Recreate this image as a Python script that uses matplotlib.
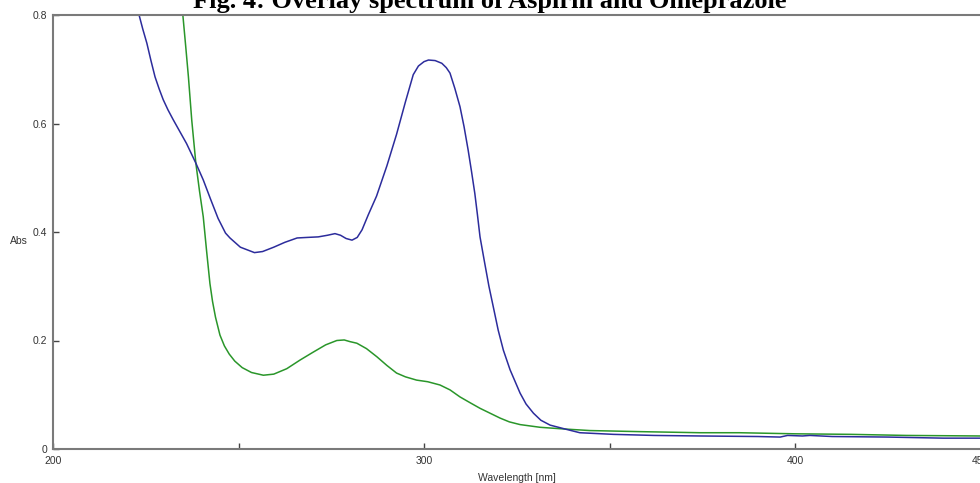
import matplotlib.pyplot as plt
import numpy as np

plt.rcParams.update({
    "font.family": "sans-serif",
    "font.sans-serif": ["Liberation Sans"],
    "font.size": 7.5,
})

# Omeprazole (blue) - wavelength [nm], absorbance
blue_wl = [222.6, 223.2, 224.2, 225.3, 226.4, 227.5, 228.6, 229.7, 231.0, 232.4,
           234.2, 236.0, 238.5, 240.5, 242.5, 244.5, 246.5, 247.7, 250.5, 254.3,
           256.5, 259.5, 262.5, 265.8, 268.5, 271.5, 274.0, 276.0, 277.5, 279.0,
           280.6, 282.0, 283.3, 285.0, 287.2, 288.1, 290.0, 292.6, 295.0, 297.1,
           298.5, 300.0, 301.2, 303.0, 304.8, 306.0, 307.0, 308.3, 309.7, 310.8,
           311.9, 312.8, 313.7, 314.4, 315.1, 316.3, 317.5, 318.8, 320.0, 321.4,
           323.2, 325.9, 327.5, 329.5, 331.5, 334.0, 338.5, 342.0, 351.0, 362.0,
           374.4, 390.0, 396.0, 398.0, 402.0, 404.0, 410.0, 425.0, 440.0, 450.0]
blue_abs = [0.810, 0.800, 0.774, 0.748, 0.716, 0.686, 0.664, 0.644, 0.625, 0.607,
            0.585, 0.563, 0.527, 0.496, 0.460, 0.425, 0.398, 0.389, 0.372, 0.362,
            0.364, 0.372, 0.381, 0.389, 0.390, 0.391, 0.394, 0.397, 0.394, 0.388,
            0.385, 0.390, 0.404, 0.432, 0.466, 0.484, 0.522, 0.580, 0.640, 0.690,
            0.706, 0.714, 0.717, 0.716, 0.711, 0.703, 0.693, 0.665, 0.631, 0.594,
            0.551, 0.512, 0.471, 0.432, 0.391, 0.345, 0.300, 0.258, 0.219, 0.182,
            0.146, 0.103, 0.083, 0.066, 0.053, 0.044, 0.036, 0.030, 0.027, 0.025,
            0.024, 0.023, 0.022, 0.025, 0.024, 0.025, 0.023, 0.022, 0.020, 0.020]

# Aspirin (green)
green_wl = [234.9, 235.0, 235.8, 236.5, 237.4, 238.5, 239.5, 240.5, 241.4, 242.3,
            243.0, 243.8, 245.0, 246.2, 247.5, 249.0, 251.0, 253.5, 256.7, 259.5,
            263.0, 266.6, 270.0, 273.5, 276.5, 278.5, 280.0, 281.9, 284.5, 287.3,
            290.0, 292.6, 295.0, 298.0, 301.0, 304.3, 307.0, 309.7, 312.5, 315.1,
            317.8, 320.5, 323.0, 325.9, 331.3, 337.5, 344.7, 358.2, 374.4, 385.0,
            400.0, 415.0, 430.0, 450.0]
green_abs = [0.820, 0.800, 0.740, 0.686, 0.606, 0.527, 0.475, 0.428, 0.365, 0.305,
             0.272, 0.243, 0.210, 0.190, 0.175, 0.162, 0.150, 0.141, 0.136, 0.138,
             0.148, 0.164, 0.178, 0.192, 0.200, 0.201, 0.198, 0.195, 0.185, 0.170,
             0.154, 0.140, 0.133, 0.127, 0.124, 0.118, 0.109, 0.096, 0.085, 0.075,
             0.066, 0.057, 0.050, 0.045, 0.040, 0.037, 0.034, 0.032, 0.030, 0.030,
             0.028, 0.027, 0.025, 0.024]

x_ticks = [200, 300, 400, 450]
x_minor = [250, 350]
y_ticks = [0, 0.2, 0.4, 0.6, 0.8]
y_labels = ["0", "0.2", "0.4", "0.6", "0.8"]

fig = plt.figure(figsize=(9.8, 4.83), dpi=100)
ax = fig.add_axes([53 / 980, 1 - 449 / 483, 927.5 / 980, 434 / 483])

ax.plot(green_wl, green_abs, color="#2a962a", linewidth=1.1)
ax.plot(blue_wl, blue_abs, color="#2c2c9c", linewidth=1.1)

ax.set_xlim(200, 450)
ax.set_ylim(0, 0.8)
ax.set_xticks(x_ticks)
ax.set_xticks(x_minor, minor=True)
ax.set_yticks(y_ticks)
ax.set_yticklabels(y_labels)
ax.tick_params(direction="in", length=4, width=1, pad=5, colors="#444444",
               labelcolor="#333333", labelsize=7.5)
ax.tick_params(which="minor", direction="in", length=4, width=1, colors="#444444")
ax.tick_params(axis="y", pad=4)

for s in ["left", "bottom", "top"]:
    ax.spines[s].set_color("#7a7a7a")
    ax.spines[s].set_linewidth(1.5)
ax.spines["right"].set_visible(False)

ax.set_xlabel("Wavelength [nm]", fontsize=7.5, color="#333333", labelpad=5)
fig.text(10 / 980, 1 - 241 / 483, "Abs", fontsize=7.5, color="#333333",
         ha="left", va="center")

fig.text(490 / 980, 1 - 8 / 483, "Fig. 4: Overlay spectrum of Aspirin and Omeprazole",
         fontsize=19, fontweight="bold", family="Liberation Serif",
         ha="center", va="baseline")

fig.savefig("out.png", dpi=100)
